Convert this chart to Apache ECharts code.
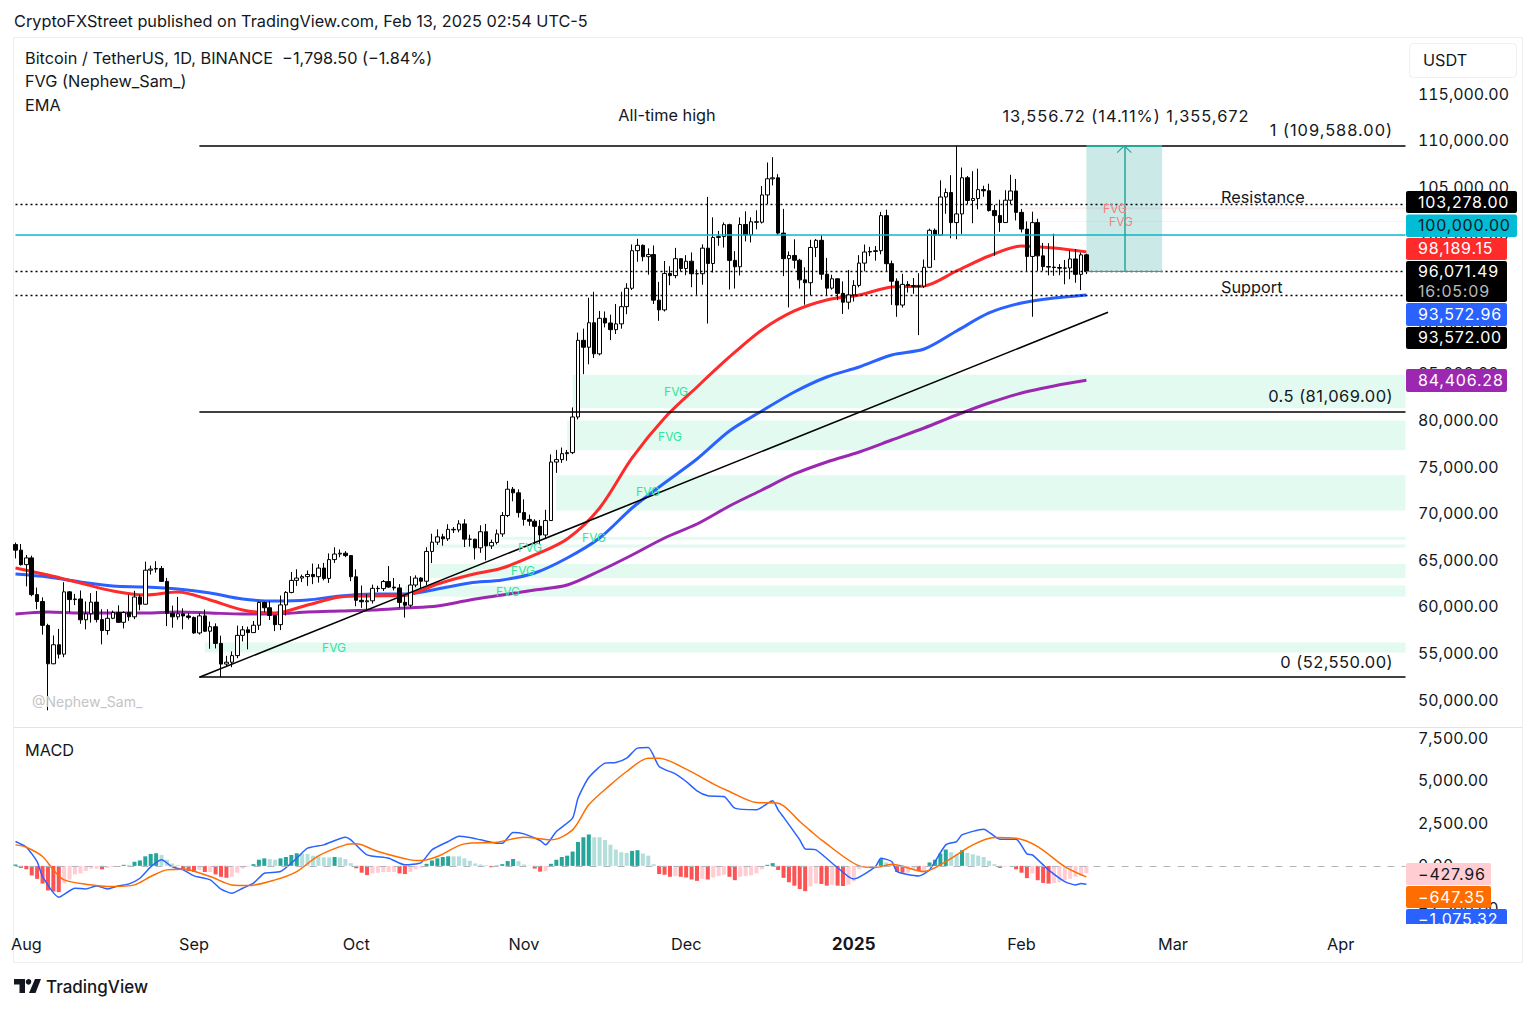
<!DOCTYPE html>
<html>
<head>
<meta charset="utf-8">
<title>BTCUSDT 1D</title>
<script src="https://cdn.jsdelivr.net/npm/echarts@6/dist/echarts.min.js"></script>
<style>
  html, body { margin: 0; padding: 0; background: #fff; }
  #chart { width: 1536px; height: 1010px; }
  #chart text { font-variant-numeric: tabular-nums; }
  /* the price tags and drawing labels are set wider than the body text */
  #chart text[style*="16px"] { letter-spacing: 0.8px; }
  #chart text[style*="16.4px"] { letter-spacing: 1px; }
  #chart text[style*="16.5px"] { letter-spacing: 0.45px; }
</style>
</head>
<body>
<div id="chart"></div>
<script>
// daily candles from Jul 30 2024: open, close, low, high
const candles = [
  [66784,66188,65302,67000],[66188,64628,64530,66849],[64628,65354,62302,65659],[65354,61415,61236,65596],[61414,60680,59852,62169],
  [60676,58116,57122,61117],[58110,53991,49000,58284],[53991,56034,53962,57029],[56034,55027,54558,57736],[55027,61710,54702,62745],
  [61710,60881,59535,61800],[60881,60945,60288,61488],[60945,58715,58286,61855],[58715,59354,57688,60680],[59355,60609,58408,61572],
  [60609,58739,58433,61800],[58739,57560,56078,59849],[57560,58874,57100,59847],[58874,59493,58785,59700],[59493,58438,58400,60260],
  [58438,59494,57787,59617],[59494,59034,58600,61396],[59034,61159,58783,61820],[61159,60382,59724,61400],[60381,64037,60345,64955],
  [64037,64157,63565,64522],[64157,64220,63773,65000],[64220,62834,62800,64481],[62834,59415,58034,63212],[59415,59034,57860,60234],
  [59034,59359,58723,61166],[59359,59123,57701,59944],[59123,58973,58745,59432],[58969,57301,57217,59062],[57301,59132,57128,59425],
  [59132,57487,57415,59809],[57487,57970,55606,58519],[57971,56180,55643,58327],[56180,53962,52550,57008],[53962,54160,53745,54850],
  [54160,54869,53629,55318],[54869,57042,54591,58088],[57042,57635,56386,58044],[57635,57339,55545,57981],[57339,58127,57322,58588],
  [58127,60571,57632,60648],[60571,60005,59500,60656],[60005,59182,58700,60672],[59182,58192,57500,59208],[58192,60309,57610,61320],
  [60309,61649,59174,61786],[61649,62940,61555,63850],[62940,63192,62350,64133],[63192,63348,62758,63559],[63348,63578,62357,64000],
  [63578,63339,62538,64745],[63339,64262,62700,64688],[64262,63152,62947,64817],[63152,65173,62670,65839],[65173,65769,64819,66498],
  [65769,65858,65422,66260],[65858,65602,65432,66076],[65602,63327,62856,65618],[63327,60805,60164,64130],[60804,60649,60000,62390],
  [60649,60752,59828,61470],[60751,62086,60459,62484],[62086,62058,61689,62370],[62058,62819,61798,62975],[62819,62224,62128,64478],
  [62224,62132,61860,63200],[62132,60582,60000,62543],[60583,60274,58946,61320],[60274,62445,60050,63400],[62445,63193,62209,63480],
  [63193,62851,62050,63285],[62851,66046,62443,66500],[66046,67041,64800,67950],[67042,67612,66750,68424],[67612,67399,66666,67939],
  [67399,68418,67177,68969],[68418,68362,68024,68668],[68362,69001,68100,69400],[69001,67367,66518,69500],[67360,67361,66571,67836],
  [67361,66432,65188,67402],[66432,68161,65900,68850],[68161,66642,65088,69000],[66642,67014,66320,67317],[67014,67930,66800,68400],
  [67930,69907,67620,70270],[69907,72720,69730,73620],[72720,72339,71436,72961],[72339,70215,69685,72700],[70216,69482,68820,71632],
  [69482,69289,68795,70000],[69289,68741,66800,69500],[68742,67811,66803,69432],[67811,69359,67458,70522],[69359,75639,69322,76460],
  [75640,75905,74480,76943],[75904,76538,75556,77199],[76538,76649,75773,76932],[76649,80474,76492,81500],[80475,88701,80216,89530],
  [88701,87955,85072,89956],[87955,90584,86127,93265],[90585,87250,86800,93905],[87250,91066,87076,91850],[91066,90558,90091,91800],
  [90558,89845,88722,91449],[89845,90464,89376,92594],[90464,92310,89947,93905],[92310,94286,91500,94831],[94286,98317,94100,98984],
  [98317,98892,97122,99588],[98892,97672,97180,98990],[97672,97900,95734,98564],[97900,93010,92600,98871],[93010,91965,90791,94973],
  [91965,95863,91792,97208],[95864,95643,94620,96650],[95643,97460,95364,98619],[97460,96407,96092,97463],[96407,97185,95693,97836],
  [97185,95840,94395,98130],[95840,95849,93578,96305],[95849,98587,94660,99000],[98587,96945,90500,104088],[96945,99740,95981,101898],
  [99740,99831,98844,100439],[99831,101109,98657,101351],[101109,97276,94150,101215],[97276,96593,94256,98270],[96593,101125,95658,101888],
  [101125,100001,99311,102540],[100001,101417,99205,101895],[101418,101372,100609,102650],[101372,104298,101228,105250],[104298,106030,103322,107780],
  [106030,106140,105321,108353],[106140,100204,100000,106524],[100204,97461,95587,102800],[97461,97805,92232,98233],[97805,97292,96398,99540],
  [97292,95186,94250,97448],[95186,94881,92520,96538],[94881,98663,93512,99487],[98663,99429,97632,99569],[99429,95791,95199,99963],
  [95791,94299,93500,97544],[94299,95300,94135,95733],[95300,93738,93009,95340],[93738,92792,91530,95024],[92792,93576,92033,96250],
  [93576,94591,92870,95151],[94591,96984,94392,97839],[96984,98174,96100,98976],[98174,98236,97735,98734],[98236,98314,97250,98813],
  [98314,102078,97926,102482],[102078,96923,96132,102712],[96923,95043,92500,97254],[95043,92484,91220,95349],[92484,94701,92206,95836],
  [94701,94566,93831,95050],[94566,94488,93692,95378],[94488,94516,89256,95893],[94516,96534,94310,97371],[96534,100504,96500,100681],
  [100505,99987,97300,100700],[99987,104077,99950,105865],[104078,104557,102277,104988],[104556,101331,99651,106422],[101331,102260,99550,109588],
  [102260,106144,100119,107240],[106144,103706,103319,106327],[103706,103910,101262,106850],[103910,104870,102750,107120],[104870,104746,104106,105286],
  [104746,102620,102520,105500],[102620,102082,97777,103222],[102082,101335,100333,103783],[101335,103734,101328,104800],[103734,104722,103320,106457],
  [104722,102429,101560,106012],[102429,100635,100279,102783],[100635,97700,96150,101456],[97700,101328,91231,102500],[101328,97763,96150,101743],
  [97763,96612,96155,99149],[96612,96554,95676,99120],[96554,96506,95620,100137],[96506,96444,95688,96880],[96444,96462,94713,97323],
  [96462,97430,95256,98345],[97430,95778,94876,98478],[95778,97870,94088,98119],[97870,96071,95800,97990]
];

// EMAs read every 6 days
const emaDays = [0,6,12,18,24,30,36,42,48,54,60,66,72,78,84,90,96,102,108,114,120,126,132,138,144,150,156,162,168,174,180,186,192,198];
const emaRed = [64271,63520,62661,61803,61374,61696,60837,59764,59442,60301,61159,61267,61320,62554,63520,64271,65666,67383,70709,76074,80366,83692,86911,89808,91847,93027,93564,94422,94530,96139,97749,98822,98607,98189];
const emaBlue = [63627,63305,62769,62340,62232,62018,61588,60945,60730,60837,61267,61481,61481,62018,62661,62983,63734,65344,67490,70709,73391,75967,78971,81117,83156,84765,85838,87126,87770,89701,91632,92705,93242,93573];
const emaPurple = [59335,59550,59442,59442,59442,59550,59442,59335,59335,59550,59657,59764,59979,60194,60837,61374,61910,62447,63949,65666,67490,68992,70924,72640,74357,75645,76718,78005,79293,80688,81975,83048,83800,84406];

// MACD lines, [day index, value]
const macdLine = [[0,1428],[2,1095],[4,254],[5,-626],[8,-1839],[11,-1311],[13,-1350],[15,-1174],[17,-1350],[19,-1174],[21,-1056],[23,-724],[25,-59],[27,352],[29,-59],[31,-235],[33,-587],[36,-822],[38,-1369],[40,-1604],[42,-1311],[44,-1017],[46,-430],[49,-333],[52,450],[54,1037],[57,1232],[61,1682],[62,1526],[65,645],[69,450],[72,59],[75,196],[77,939],[80,1428],[82,1741],[84,1663],[86,1526],[89,1330],[90,1330],[92,1956],[94,1878],[97,1487],[98,1232],[100,2015],[103,2797],[104,3971],[106,5183],[109,6024],[111,6064],[113,6318],[115,6905],[117,6944],[119,5829],[122,5399],[124,4949],[126,4401],[128,4108],[131,4068],[133,3384],[137,3286],[140,3814],[141,3286],[142,2856],[145,1526],[146,998],[148,939],[151,156],[154,-626],[155,-763],[159,-39],[160,450],[162,254],[163,-333],[167,-587],[169,-235],[172,1232],[174,1428],[175,1819],[179,2152],[182,1565],[185,1565],[187,704],[188,645],[191,-235],[194,-919],[196,-1115],[197,-1037],[198,-1075]];
const macdSignal = [[0,1232],[2,1095],[5,548],[7,-235],[9,-822],[13,-1076],[18,-1213],[22,-1115],[25,-626],[28,-235],[31,-196],[36,-626],[40,-1115],[43,-1154],[48,-822],[52,-333],[56,587],[61,1232],[63,1291],[67,841],[73,352],[75,313],[78,548],[83,1291],[89,1389],[94,1682],[99,1526],[103,2112],[106,3579],[110,4753],[113,5535],[117,6318],[119,6318],[124,5672],[129,4812],[132,4362],[137,3716],[141,3677],[145,2601],[147,2054],[149,1526],[156,0],[159,-98],[162,98],[168,-333],[172,254],[177,1232],[181,1663],[185,1623],[189,1134],[194,-39],[198,-647]];
const macdHist = [80,-120,-200,-560,-760,-1040,-1440,-1500,-1540,-1040,-800,-500,-440,-300,-160,-160,-200,-120,-60,-40,60,60,240,320,560,700,740,640,360,140,40,-240,-300,-360,-240,-360,-360,-500,-640,-700,-640,-400,-160,-40,100,360,440,400,360,440,520,640,740,720,700,600,560,500,500,520,500,400,160,-140,-400,-540,-440,-400,-360,-360,-360,-440,-480,-360,-200,-100,120,320,440,520,560,560,560,440,300,140,80,40,-80,20,100,280,400,280,80,20,-160,-340,-320,120,360,520,600,840,1400,1680,1840,1680,1680,1520,1240,960,800,760,880,920,720,600,100,-480,-520,-640,-600,-640,-680,-800,-880,-760,-800,-680,-600,-520,-640,-840,-640,-600,-560,-440,-200,60,160,-240,-700,-960,-1160,-1360,-1480,-1200,-1040,-1060,-1160,-1100,-1160,-1180,-1100,-900,-200,-60,-60,-20,400,200,100,-360,-400,-400,-240,-300,-300,200,360,720,960,800,680,920,760,680,600,520,300,100,-120,-40,-20,-200,-400,-720,-440,-840,-1000,-1040,-1000,-960,-840,-760,-640,-600,-428];

// fair value gap zones: first day index, top, bottom
const fvgGreen = [[35,56270,55200],[72,62400,61200],[76,64700,63200],[76,66800,66450],[90,67620,67300],[100,74210,70450],[102,80100,76900],[103,85000,81400]];
const fvgRed = [[186,102990,102760],[186,101500,101420]];

const fibLevels = [109588, 81069, 52550];
const dottedLevels = [103278, 96071, 93572];
const lastIdx = candles.length - 1;
const boxEnd = 212, arrowIdx = 205, boxTop = 109628;

// one category per day, running on past the last candle to mid April
const days = [];
for (let i = 0; i < 258; i++) {
  const d = new Date(Date.UTC(2024, 6, 30 + i));
  days.push(d.toISOString().slice(0, 10));
}
const monthNames = { "08": "Aug", "09": "Sep", "10": "Oct", "11": "Nov", "12": "Dec", "02": "Feb", "03": "Mar", "04": "Apr" };

const font = "Inter";
const ink = "#131722";

function fmtPrice(v) {
  const s = Math.abs(v).toLocaleString("en-US", { minimumFractionDigits: 2, maximumFractionDigits: 2 });
  return (v < 0 ? "\u2212" : "") + s;
}

function histColor(i) {
  const v = macdHist[i], prev = i ? macdHist[i - 1] : 0;
  if (v >= 0) return v > prev ? "#26a69a" : "#b2dfdb";
  return v < prev ? "#ff5252" : "#ffcdd2";
}

function txt(x, y, text, size, color, align, weight) {
  return { type: "text", z: 60, x: x, y: y, silent: true,
    style: { text: text, fill: color || ink, font: (weight || "normal") + " " + (size || 16) + "px " + font,
      textAlign: align || "left", textVerticalAlign: "middle" } };
}

function tag(y0, y1, x1, bg, fg, text, ty, sub) {
  const out = [
    { type: "rect", z: 50, silent: true, shape: { x: 1406, y: y0, width: x1 - 1406, height: y1 - y0, r: 2 }, style: { fill: bg } },
    txt(1418, ty, text, 16, fg)
  ];
  if (sub) out.push(txt(1418, sub, "16:05:09", 16, "#b8b8b8"));
  return out;
}

const graphics = [
  { type: "rect", z: 0, silent: true, shape: { x: 13.5, y: 37.5, width: 1509, height: 925 }, style: { fill: "none", stroke: "#eeeff2", lineWidth: 1 } },
  { type: "line", z: 1, silent: true, shape: { x1: 14, y1: 727.5, x2: 1522, y2: 727.5 }, style: { stroke: "#e0e3eb", lineWidth: 1 } },
  { type: "rect", z: 40, silent: true, shape: { x: 1409.5, y: 43.5, width: 107, height: 34, r: 4 }, style: { fill: "#fff", stroke: "#eeeff2" } },
  txt(1423, 60, "USDT", 16.3),
  txt(14, 20.5, "CryptoFXStreet published on TradingView.com, Feb 13, 2025 02:54 UTC-5", 16.3),
  txt(25, 57.5, "Bitcoin / TetherUS, 1D, BINANCE  \u22121,798.50 (\u22121.84%)", 16.3),
  txt(25, 80.5, "FVG (Nephew_Sam_)", 16.3),
  txt(25, 104.5, "EMA", 16.3),
  txt(25, 750, "MACD", 16.3),
  txt(667, 114.5, "All-time high", 16.3, ink, "center"),
  txt(1126, 115.5, "13,556.72 (14.11%) 1,355,672", 16.4, ink, "center"),
  txt(1393, 129.5, "1 (109,588.00)", 16.4, ink, "right"),
  txt(1393, 395.5, "0.5 (81,069.00)", 16.5, ink, "right"),
  txt(1393, 661.5, "0 (52,550.00)", 16.5, ink, "right"),
  txt(1221, 196.5, "Resistance", 16.3),
  txt(1221, 287, "Support", 16.3),
  txt(32, 701.5, "@Nephew_Sam_", 14, "#c4c4c4"),
  txt(1115, 208, "FVG", 12, "#f77f7f", "center"),
  txt(1121, 221, "FVG", 12, "#f77f7f", "center"),
  // TradingView logo and name
  { type: "polygon", z: 60, silent: true, shape: { points: [[14,979],[25,979],[25,993],[19.5,993],[19.5,984.5],[14,984.5]] }, style: { fill: ink } },
  { type: "polygon", z: 60, silent: true, shape: { points: [[35,979],[41,979],[35.5,993],[29,993]] }, style: { fill: ink } },
  { type: "circle", z: 60, silent: true, shape: { cx: 28.5, cy: 981.8, r: 2.8 }, style: { fill: ink } },
  txt(46, 986.5, "TradingView", 17, ink, "left", "500"),
  // price tags stacked on the axis
  ...tag(191, 213, 1517, "#000", "#fff", "103,278.00", 201.5),
  ...tag(214.5, 237, 1517, "#00bcd4", "#131722", "100,000.00", 224.5),
  ...tag(238, 260, 1507, "#ff2a2a", "#fff", "98,189.15", 247.5),
  ...tag(261, 302, 1507, "#000", "#fff", "96,071.49", 271, 291),
  ...tag(303, 326, 1507, "#2962ff", "#fff", "93,572.96", 314),
  ...tag(327, 349, 1507, "#000", "#fff", "93,572.00", 336.5),
  ...tag(369, 392, 1507, "#9c27b0", "#fff", "84,406.28", 380),
  ...tag(863, 885, 1491, "#ffcdd2", "#131722", "\u2212427.96", 874),
  ...tag(886, 908, 1491, "#ff6d00", "#fff", "\u2212647.35", 897),
  ...tag(909, 932, 1507, "#2962ff", "#fff", "\u22121,075.32", 919),
  { type: "rect", z: 70, silent: true, shape: { x: 1404, y: 924, width: 116, height: 10 }, style: { fill: "#fff" } }
];
// FVG tags along the green zones
[[334,647],[508,591],[523,570],[530,547],[594,537],[648,491],[670,436],[676,391]].forEach(p => {
  graphics.push(txt(p[0], p[1], "FVG", 12, "#2ee59d", "center"));
});

const blackLine = { color: "#000", width: 1.6, type: "solid" };
const dotLine = { color: "#000", width: 1.4, type: [2, 3] };
const tealLine = { color: "#26a69a", width: 2, type: "solid" };

const priceLabel = { margin: 12.5, fontSize: 15.9, fontFamily: font, color: ink, verticalAlign: "top", formatter: fmtPrice };

const option = {
  animation: false,
  backgroundColor: "#fff",
  textStyle: { fontFamily: font },
  graphic: graphics,
  grid: [
    { left: 15.5, width: 1390, top: 48.6, height: 699 },
    { left: 15.5, width: 1390, top: 738, height: 170.5 }
  ],
  xAxis: [
    { type: "category", gridIndex: 0, data: days, boundaryGap: false, show: false },
    {
      type: "category", gridIndex: 1, data: days, boundaryGap: false,
      axisLine: { show: false }, axisTick: { show: false }, splitLine: { show: false },
      axisLabel: {
        margin: 27, fontSize: 16.3, fontFamily: font, color: ink, hideOverlap: false,
        interval: (i, v) => v.slice(8) === "01",
        formatter: v => (v === "2025-01-01" ? "{b|2025}" : monthNames[v.slice(5, 7)]),
        rich: { b: { fontWeight: "bold", fontSize: 17, color: ink, fontFamily: font } }
      }
    }
  ],
  yAxis: [
    {
      type: "value", gridIndex: 0, position: "right", min: 45000, max: 120000, interval: 5000,
      axisLine: { show: false }, axisTick: { show: false }, splitLine: { show: false },
      axisLabel: { ...priceLabel, padding: [-9, 0, 0, 0], showMinLabel: false, showMaxLabel: false }
    },
    {
      type: "value", gridIndex: 1, position: "right", min: -2500, max: 7500, interval: 2500,
      axisLine: { show: false }, axisTick: { show: false }, splitLine: { show: false },
      axisLabel: { ...priceLabel, padding: [-8, 0, 0, 0], showMinLabel: true, showMaxLabel: true }
    }
  ],
  series: [
    {
      name: "FVG", type: "line", data: [], z: 1, silent: true,
      markArea: {
        silent: true,
        data: fvgGreen.map(z => [
          { coord: [z[0], z[1]], itemStyle: { color: "#e2faef", opacity: 1 } },
          { coord: [257, z[2]] }
        ]).concat(fvgRed.map(z => [
          { coord: [z[0], z[1]], itemStyle: { color: "#fdeeee", opacity: 1 } },
          { coord: [257, z[2]] }
        ]))
      }
    },
    { name: "EMA 200", type: "line", data: emaDays.map((d, i) => [d, emaPurple[i]]), smooth: 0.3, showSymbol: false, z: 3, lineStyle: { color: "#9c27b0", width: 3 } },
    { name: "EMA 100", type: "line", data: emaDays.map((d, i) => [d, emaBlue[i]]), smooth: 0.3, showSymbol: false, z: 3, lineStyle: { color: "#2962ff", width: 3 } },
    { name: "EMA 50", type: "line", data: emaDays.map((d, i) => [d, emaRed[i]]), smooth: 0.3, showSymbol: false, z: 3, lineStyle: { color: "#ff2a2a", width: 3 } },
    {
      name: "BTCUSDT", type: "candlestick", data: candles, barWidth: 4, z: 4, silent: true,
      itemStyle: { color: "#fff", color0: "#000", borderColor: "#000", borderColor0: "#000", borderWidth: 1 }
    },
    {
      name: "Drawings", type: "line", data: [], z: 5, silent: true,
      markArea: {
        silent: true,
        data: [[
          { coord: [lastIdx, boxTop], itemStyle: { color: "rgba(38,166,154,0.24)", opacity: 1 } },
          { coord: [boxEnd, dottedLevels[1]] }
        ]]
      },
      markLine: {
        silent: true, symbol: "none", label: { show: false }, animation: false,
        data: [
          ...fibLevels.map(v => [{ coord: [34, v], lineStyle: blackLine }, { coord: [257, v] }]),
          ...dottedLevels.map(v => [{ coord: [0, v], lineStyle: dotLine }, { coord: [257, v] }]),
          [{ coord: [0, 100000], lineStyle: { color: "#10b4c8", width: 1.6, type: "solid" } }, { coord: [257, 100000] }],
          [{ coord: [34, 52550], lineStyle: blackLine }, { coord: [202, 91700] }],
          [{ coord: [lastIdx, boxTop], lineStyle: tealLine }, { coord: [boxEnd, boxTop] }],
          [{ coord: [lastIdx, dottedLevels[1]], lineStyle: { color: "#26a69a", width: 1.2, type: "solid" } }, { coord: [boxEnd, dottedLevels[1]] }],
          [{ coord: [arrowIdx, dottedLevels[1]], lineStyle: { color: "#26a69a", width: 1.5, type: "solid" } }, { coord: [arrowIdx, boxTop] }]
        ]
      },
      markPoint: {
        silent: true, label: { show: false },
        data: [{ coord: [arrowIdx, boxTop - 400], symbol: "path://M-10,10 L0,0 L10,10 L9,11 L0,2.5 L-9,11Z", symbolSize: [15, 8], itemStyle: { color: "#26a69a" } }]
      }
    },
    {
      name: "Histogram", type: "bar", xAxisIndex: 1, yAxisIndex: 1, barWidth: 4, z: 2, silent: true,
      data: macdHist.map((v, i) => ({ value: v, itemStyle: { color: histColor(i) } })),
      markLine: {
        silent: true, symbol: "none", label: { show: false },
        lineStyle: { color: "#b2b5be", type: [7, 7], width: 1 },
        data: [{ yAxis: 0 }]
      }
    },
    { name: "MACD", type: "line", xAxisIndex: 1, yAxisIndex: 1, data: macdLine, showSymbol: false, z: 3, smooth: 0.2, lineStyle: { color: "#2962ff", width: 1.5 } },
    { name: "Signal", type: "line", xAxisIndex: 1, yAxisIndex: 1, data: macdSignal, showSymbol: false, z: 3, smooth: 0.3, lineStyle: { color: "#ff6d00", width: 1.5 } }
  ]
};

const chart = echarts.init(document.getElementById("chart"), null, { renderer: "svg" });
chart.setOption(option);
window.addEventListener("resize", () => chart.resize());
</script>
</body>
</html>
